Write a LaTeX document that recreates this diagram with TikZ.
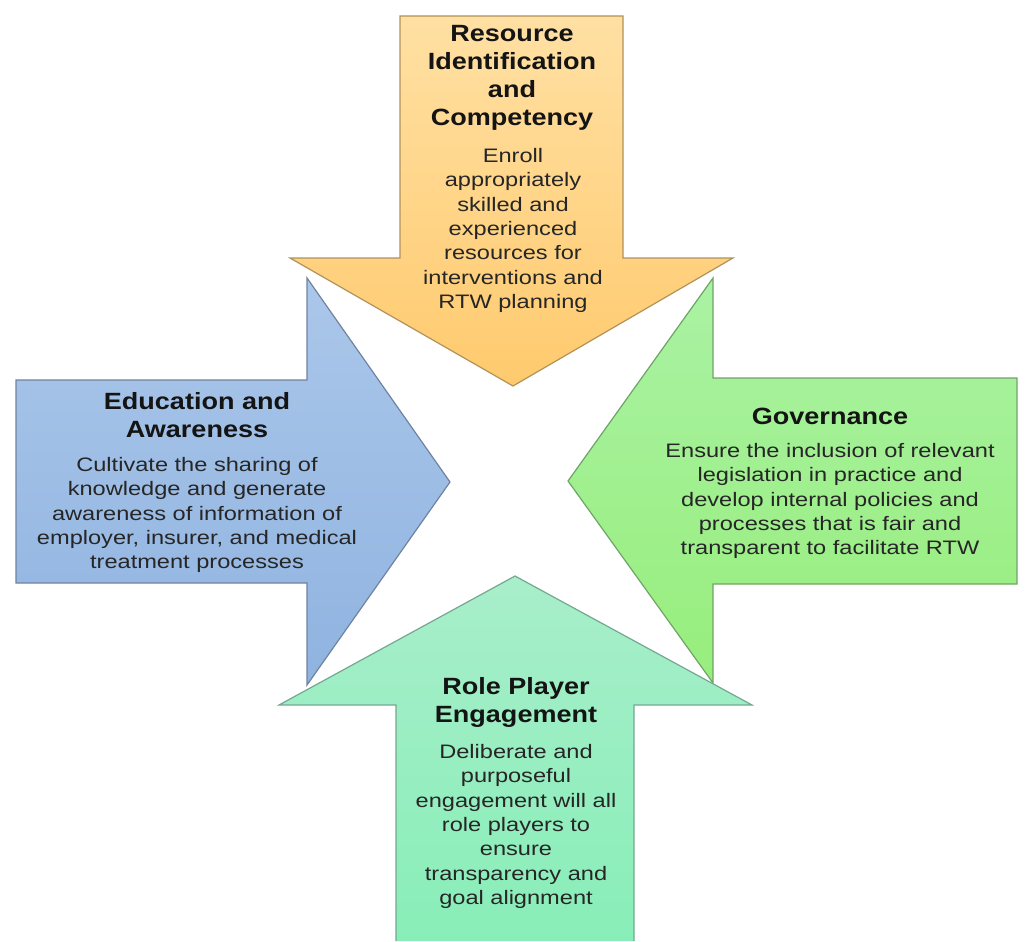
\documentclass[tikz,border=0pt]{standalone}
\usepackage{fontspec}
\setmainfont{Liberation Sans}[FakeStretch=1.21, BoldFeatures={FakeStretch=1.15}]
\usetikzlibrary{positioning}

\definecolor{orTop}{HTML}{FFE0A3}
\definecolor{orBot}{HTML}{FFCA6E}
\definecolor{orLine}{HTML}{B0925A}
\definecolor{blTop}{HTML}{ABC7EA}
\definecolor{blBot}{HTML}{8FB3E0}
\definecolor{blLine}{HTML}{6F83A0}
\definecolor{grTop}{HTML}{AAF2A4}
\definecolor{grBot}{HTML}{97EE7C}
\definecolor{grLine}{HTML}{70A468}
\definecolor{tlTop}{HTML}{A8EECA}
\definecolor{tlBot}{HTML}{88EEB8}
\definecolor{tlLine}{HTML}{74A890}

\tikzset{
  arrowbox/.style={line width=0.6pt},
  title/.style={font=\bfseries\fontsize{11.75}{14}\selectfont, align=center, inner sep=0pt, text=black!92},
  body/.style={font=\fontsize{9.75}{12.2}\selectfont, align=center, inner sep=0pt, text=black!85}
}

\begin{document}
\begin{tikzpicture}[x=0.5pt, y=-0.5pt]
  \useasboundingbox (0,0) rectangle (1026,941);

  % down arrow
  \shadedraw[arrowbox, top color=orTop, bottom color=orBot, draw=orLine]
    (400,16) -- (623,16) -- (623,258) -- (733,258) -- (513,386) -- (290,258) -- (400,258) -- cycle;
  % right arrow
  \shadedraw[arrowbox, top color=blTop, bottom color=blBot, draw=blLine]
    (16,380) -- (307,380) -- (307,278) -- (450,482) -- (307,685) -- (307,583) -- (16,583) -- cycle;
  % left arrow
  \shadedraw[arrowbox, top color=grTop, bottom color=grBot, draw=grLine]
    (1017,378) -- (713,378) -- (713,278) -- (568,481) -- (713,683) -- (713,584) -- (1017,584) -- cycle;
  % up arrow
  \shadedraw[arrowbox, top color=tlTop, bottom color=tlBot, draw=tlLine]
    (396,941) -- (396,705) -- (279,705) -- (515,576) -- (752,705) -- (634,705) -- (634,941);

  \node[title] (resT) at (512,78) {Resource\\Identification\\and\\Competency};
  \node[body] (resB) at (513,230.5) {Enroll\\appropriately\\skilled and\\experienced\\resources for\\interventions and\\RTW planning};

  \node[title] (eduT) at (197,415.5) {Education and\\Awareness};
  \node[body] (eduB) at (197,515) {Cultivate the sharing of\\knowledge and generate\\awareness of information of\\employer, insurer, and medical\\treatment processes};

  \node[title] (govT) at (830,416) {Governance};
  \node[body] (govB) at (830,501) {Ensure the inclusion of relevant\\legislation in practice and\\develop internal policies and\\processes that is fair and\\transparent to facilitate RTW};

  \node[title] (rolT) at (516,702) {Role Player\\Engagement};
  \node[body] (rolB) at (516,826.5) {Deliberate and\\purposeful\\engagement will all\\role players to\\ensure\\transparency and\\goal alignment};
\end{tikzpicture}
\end{document}
